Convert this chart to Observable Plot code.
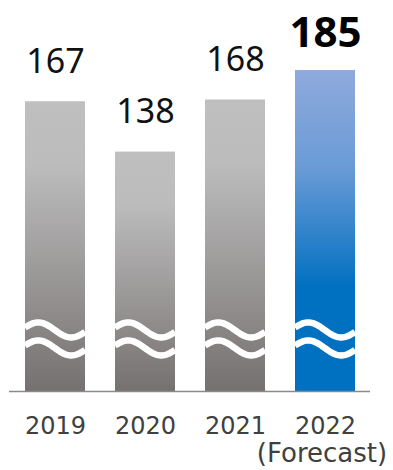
<!DOCTYPE html>
<html><head><meta charset="utf-8">
<script src="https://cdn.jsdelivr.net/npm/d3@7"></script>
<script src="https://cdn.jsdelivr.net/npm/@observablehq/plot@0.6"></script>
<style>
body{margin:0;background:#fff;} svg{display:block;}
g[aria-label="note"] text{letter-spacing:4.8px;}
</style>
</head><body><div id="chart"></div>
<script>
const years = ["2019", "2020", "2021", "2022"];
const values = [167, 138, 168, 185];
const isForecast = [false, false, false, true];
const notes = ["", "", "", "(Forecast)"];
const breakValue = 30; // where the axis-break waves sit

const data = years.map((year, i) => ({year, value: values[i], forecast: isForecast[i], note: notes[i]}));

// wave (axis break) mark drawn with the plot's own scales
const waveMark = (index, scales) => {
  const g = d3.create("svg:g");
  const x = scales.x, y = scales.y;
  const bw = typeof x.bandwidth === "function" ? x.bandwidth() : x.bandwidth;
  for (const yr of years) {
    const x0 = x(yr);
    for (const off of [-9, 9]) {
      const yc = y(breakValue) + off;
      const pts = d3.range(0, 1.0001, 0.02).map(t => [x0 + t * bw, yc - 7.5 * Math.cos(2 * Math.PI * (t - 0.22) / 1.1)]);
      g.append("path").attr("d", d3.line()(pts)).attr("fill", "none")
        .attr("stroke", "#fff").attr("stroke-width", 6.5).attr("stroke-linecap", "butt");
    }
  }
  return g.node();
};

const plot = Plot.plot({
  width: 393, height: 470,
  marginLeft: 9, marginRight: 23, marginTop: 44, marginBottom: 79,
  style: {fontFamily: "'Noto Sans', sans-serif", background: "#fff"},
  x: {domain: years, paddingInner: 0.335, paddingOuter: 0.172, axis: null},
  y: {domain: [0, 200], axis: null},
  marks: [
    Plot.barY(data.filter(d => !d.forecast), {x: "year", y: "value", fill: "url(#greyGrad)"}),
    Plot.barY(data.filter(d => d.forecast), {x: "year", y: "value", fill: "url(#blueGrad)"}),
    waveMark,
    Plot.ruleY([0], {stroke: "#8a8a8a", strokeWidth: 1.5}),
    Plot.text(data.filter(d => !d.forecast), {x: "year", y: "value", text: d => String(d.value),
      lineAnchor: "bottom", dy: -29, fontSize: 34, fill: "#111"}),
    Plot.text(data.filter(d => d.forecast), {x: "year", y: "value", text: d => String(d.value),
      lineAnchor: "bottom", dy: -24, fontSize: 42, fontWeight: "bold", fill: "#000"}),
    Plot.text(data, {x: "year", text: "year", frameAnchor: "bottom", lineAnchor: "top",
      dy: 25, fontSize: 24, fontFamily: "'DejaVu Sans', sans-serif", fill: "#404040"}),
    Plot.text(data.filter(d => d.note), {x: "year", text: "note", frameAnchor: "bottom", lineAnchor: "top",
      dy: 52, dx: -3.5, fontSize: 26, fontFamily: "'DejaVu Sans', sans-serif", fill: "#404040", ariaLabel: "note"})
  ]
});

const defs = d3.create("svg:defs");
const grey = defs.append("linearGradient").attr("id", "greyGrad").attr("x1", 0).attr("y1", 0).attr("x2", 0).attr("y2", 1);
[[0, "#bfbfbf"], [0.22, "#bcbcbc"], [0.6, "#9b9898"], [1, "#767171"]].forEach(([o, c]) =>
  grey.append("stop").attr("offset", o).attr("stop-color", c));
const blue = defs.append("linearGradient").attr("id", "blueGrad").attr("x1", 0).attr("y1", 0).attr("x2", 0).attr("y2", 1);
[[0, "#8faadc"], [0.3, "#6b9bd6"], [0.68, "#0070c0"], [1, "#0070c0"]].forEach(([o, c]) =>
  blue.append("stop").attr("offset", o).attr("stop-color", c));
plot.insertBefore(defs.node(), plot.firstChild);
document.getElementById("chart").appendChild(plot);
</script>
</body></html>
